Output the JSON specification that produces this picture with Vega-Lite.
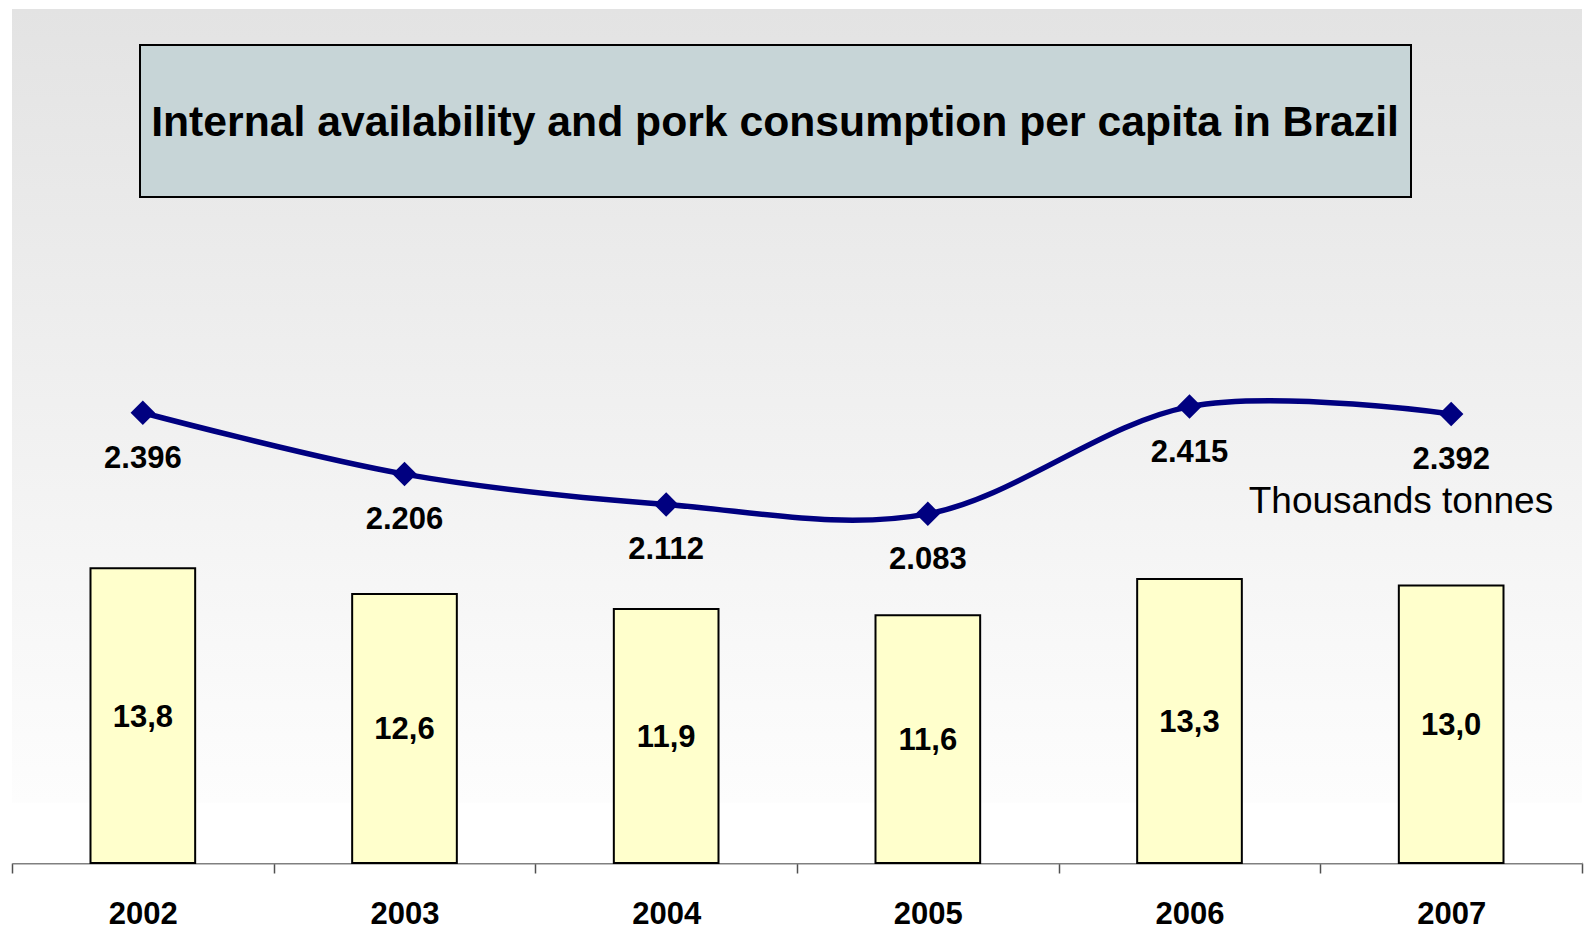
{
  "$schema": "https://vega.github.io/schema/vega-lite/v6.json",
  "width": 1570,
  "height": 854,
  "autosize": {"type": "none"},
  "padding": {"left": 12, "top": 9, "right": 4, "bottom": 74},
  "background": "#ffffff",
  "config": {
    "locale": {"number": {"decimal": ",", "thousands": ".", "grouping": [3], "currency": ["R$", ""]}},
    "view": {"stroke": null},
    "font": "Liberation Sans",
    "axisX": {
      "title": null,
      "labelAngle": 0,
      "tickBand": "extent",
      "labelFont": "Liberation Sans",
      "labelFontSize": 31,
      "labelFontWeight": "bold",
      "labelColor": "#000000",
      "labelPadding": 26,
      "labelBaseline": "top",
      "tickSize": 10,
      "tickColor": "#505050",
      "tickWidth": 1.5,
      "domainColor": "#808080",
      "domainWidth": 2,
      "grid": false
    }
  },
  "datasets": {
    "main": [
      {"year": "2002", "consumption": 13.8, "availability": 2396},
      {"year": "2003", "consumption": 12.6, "availability": 2206},
      {"year": "2004", "consumption": 11.9, "availability": 2112},
      {"year": "2005", "consumption": 11.6, "availability": 2083},
      {"year": "2006", "consumption": 13.3, "availability": 2415},
      {"year": "2007", "consumption": 13.0, "availability": 2392}
    ]
  },
  "data": {"name": "main"},
  "resolve": {"scale": {"y": "independent"}},
  "layer": [
    {
      "data": {"values": [{}]},
      "mark": {
        "type": "rect",
        "color": {
          "gradient": "linear", "x1": 0, "y1": 0, "x2": 0, "y2": 1,
          "stops": [
            {"offset": 0, "color": "#e3e3e3"},
            {"offset": 0.85, "color": "#fbfbfb"},
            {"offset": 0.929, "color": "#fdfdfd"},
            {"offset": 0.93, "color": "#ffffff"},
            {"offset": 1, "color": "#ffffff"}
          ]
        }
      },
      "encoding": {"x": {"value": 0}, "x2": {"value": "width"}, "y": {"value": 0}, "y2": {"value": "height"}}
    },
    {
      "data": {"values": [{}]},
      "mark": {"type": "rect", "fill": "#c7d5d7", "stroke": "#000000", "strokeWidth": 2},
      "encoding": {"x": {"value": 128}, "x2": {"value": 1399}, "y": {"value": 36}, "y2": {"value": 188}}
    },
    {
      "data": {"values": [{"t": "Internal availability and pork consumption per capita in Brazil"}]},
      "mark": {"type": "text", "font": "Liberation Sans", "fontSize": 42.7, "fontWeight": "bold", "align": "center", "baseline": "alphabetic", "color": "#000000"},
      "encoding": {"x": {"value": 763}, "y": {"value": 127}, "text": {"field": "t", "type": "nominal"}}
    },
    {
      "mark": {"type": "bar", "fill": "#ffffcc", "stroke": "#000000", "strokeWidth": 2, "width": {"band": 0.4}},
      "encoding": {
        "x": {"field": "year", "type": "ordinal", "scale": {"paddingInner": 0, "paddingOuter": 0}, "title": null},
        "y": {"field": "consumption", "type": "quantitative", "scale": {"domain": [0, 40], "nice": false}, "axis": null}
      }
    },
    {
      "mark": {"type": "text", "font": "Liberation Sans", "fontSize": 31, "fontWeight": "bold", "color": "#000000", "baseline": "middle", "dy": 2},
      "encoding": {
        "x": {"field": "year", "type": "ordinal"},
        "y": {"field": "consumption", "type": "quantitative", "scale": {"domain": [0, 80], "nice": false}, "axis": null},
        "text": {"field": "consumption", "type": "quantitative", "format": ".1f"}
      }
    },
    {
      "encoding": {
        "x": {"field": "year", "type": "ordinal"},
        "y": {"field": "availability", "type": "quantitative", "scale": {"domain": [1002, 3646], "nice": false, "zero": false}, "axis": null}
      },
      "layer": [
        {"mark": {"type": "line", "color": "#000080", "strokeWidth": 5.5, "interpolate": "cardinal"}},
        {"mark": {"type": "point", "shape": "diamond", "size": 600, "filled": true, "color": "#000080", "opacity": 1}},
        {
          "mark": {"type": "text", "font": "Liberation Sans", "fontSize": 31, "fontWeight": "bold", "color": "#000000", "baseline": "alphabetic", "dy": 55},
          "encoding": {"text": {"field": "availability", "type": "quantitative", "format": ",d"}}
        },
        {
          "transform": [{"filter": "datum.year == '2007'"}],
          "mark": {"type": "text", "font": "Liberation Sans", "fontSize": 37, "color": "#000000", "align": "right", "baseline": "alphabetic", "dx": 102, "dy": 99},
          "encoding": {"text": {"value": "Thousands tonnes"}}
        }
      ]
    }
  ]
}
